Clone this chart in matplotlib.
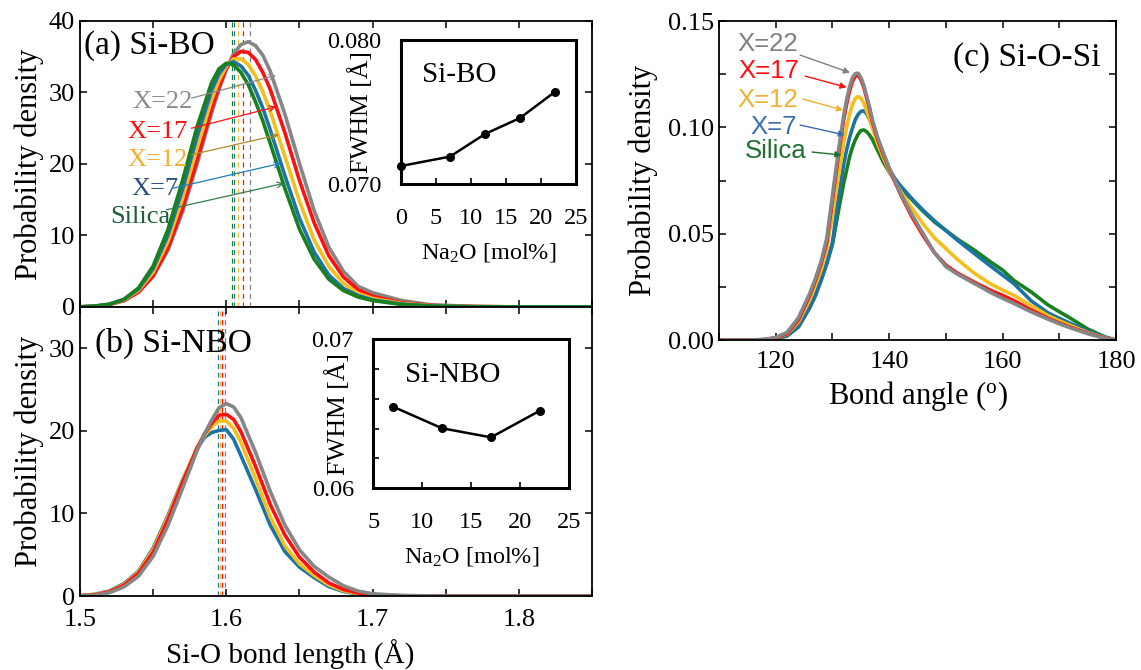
import numpy as np
import matplotlib.pyplot as plt
from matplotlib.ticker import MultipleLocator

plt.rcParams['font.family'] = ['Liberation Serif', 'DejaVu Serif']
plt.rcParams['mathtext.fontset'] = 'custom'
plt.rcParams['mathtext.rm'] = 'Liberation Serif'
plt.rcParams['mathtext.it'] = 'Liberation Serif:italic'
plt.rcParams['xtick.direction'] = 'in'
plt.rcParams['ytick.direction'] = 'in'
plt.rcParams['axes.linewidth'] = 1.3
plt.rcParams['lines.solid_joinstyle'] = 'round'

# ---- data ----
labels = ['Silica', 'X=7', 'X=12', 'X=17', 'X=22']
colors = ['#18801e', '#1c74a6', '#f2c01e', '#ff1010', '#868686']

# (a) Si-BO bond length distribution
bo_x = [1.50, 1.51, 1.52, 1.53, 1.54, 1.55, 1.56, 1.57, 1.58, 1.59, 1.595, 1.60,
        1.605, 1.61, 1.615, 1.62, 1.625, 1.63, 1.64, 1.65, 1.66, 1.67, 1.68,
        1.69, 1.70, 1.72, 1.74, 1.77, 1.80, 1.85]
bo_silica = [0.02, 0.12, 0.38, 1.07, 2.66, 5.73, 10.77, 17.64, 25.2, 31.4, 33.3, 34.1,
             33.85, 32.8, 31.1, 28.7, 26.0, 22.9, 16.6, 10.9, 6.7, 3.9, 2.3,
             1.4, 0.9, 0.35, 0.12, 0.03, 0, 0]
bo_x7 = [0.02, 0.12, 0.38, 1.05, 2.51, 5.34, 9.98, 16.4, 23.8, 30.3, 32.6, 33.95,
         34.3, 33.7, 32.4, 30.3, 27.8, 24.8, 18.4, 12.4, 7.7, 4.5, 2.6,
         1.6, 1.0, 0.4, 0.14, 0.04, 0, 0]
bo_x12 = [0.02, 0.11, 0.37, 0.98, 2.32, 4.87, 9.1, 15.1, 22.2, 29.0, 31.7, 33.65,
          34.7, 34.7, 33.9, 32.3, 30.1, 27.4, 21.1, 14.8, 9.4, 5.7, 3.3,
          1.9, 1.2, 0.5, 0.17, 0.05, 0.01, 0]
bo_x17 = [0.02, 0.10, 0.34, 0.89, 2.09, 4.38, 8.2, 13.75, 20.6, 27.7, 30.8, 33.3,
          35.0, 35.75, 35.6, 34.6, 32.8, 30.45, 24.4, 17.7, 11.8, 7.2, 4.2,
          2.4, 1.5, 0.6, 0.22, 0.06, 0.01, 0]
bo_x22 = [0.02, 0.10, 0.36, 0.9, 2.07, 4.26, 7.9, 13.25, 20.0, 27.2, 30.4, 33.3,
          35.4, 36.7, 37.1, 36.55, 35.2, 33.0, 27.0, 20.1, 13.5, 8.4, 5.0,
          2.9, 2.0, 0.9, 0.3, 0.08, 0.02, 0]
bo_mean = [1.6037, 1.6054, 1.6077, 1.6111, 1.6160]

# (b) Si-NBO bond length distribution (no NBO in silica)
nbo_x = [1.50, 1.51, 1.52, 1.53, 1.54, 1.55, 1.56, 1.57, 1.58, 1.585, 1.59, 1.595,
         1.60, 1.605, 1.61, 1.62, 1.63, 1.64, 1.65, 1.66, 1.67, 1.68, 1.69, 1.70,
         1.72, 1.75, 1.80, 1.85]
nbo_x7 = [0.05, 0.2, 0.6, 1.5, 3.0, 5.8, 9.7, 14.0, 17.8, 19.2, 19.8, 20.05,
          20.15, 19.0, 17.0, 12.9, 8.6, 5.4, 3.5, 2.24, 1.15, 0.55, 0.25, 0.1,
          0.02, 0, 0, 0]
nbo_x12 = [0.05, 0.2, 0.55, 1.4, 2.9, 5.6, 9.5, 13.9, 18.0, 19.4, 20.5, 21.2,
           21.2, 20.3, 18.6, 14.2, 9.6, 6.1, 3.9, 2.5, 1.35, 0.65, 0.3, 0.12,
           0.03, 0, 0, 0]
nbo_x17 = [0.04, 0.15, 0.5, 1.3, 2.75, 5.3, 9.2, 13.7, 17.9, 19.6, 20.9, 21.9,
           22.0, 21.4, 19.9, 15.7, 11.1, 7.4, 4.7, 2.9, 1.6, 0.8, 0.38, 0.16,
           0.04, 0, 0, 0]
nbo_x22 = [0.03, 0.1, 0.4, 1.1, 2.4, 4.8, 8.5, 13.0, 17.6, 19.6, 21.3, 22.8,
           23.3, 22.9, 21.6, 17.4, 12.7, 8.6, 5.6, 3.6, 2.3, 1.25, 0.6, 0.28,
           0.06, 0, 0, 0]
nbo_mean = [1.5941, 1.5957, 1.5971, 1.5993]

# (c) Si-O-Si bond angle distribution
ba_x = [110, 115, 118, 120, 122, 124, 126, 127, 128, 129, 130, 131, 132, 132.5,
        133, 133.5, 134, 134.5, 135, 135.5, 136, 136.5, 137, 138, 139, 140, 141,
        142, 144, 146, 148, 150, 152, 155, 158, 160, 162, 165, 168, 170, 172,
        175, 178, 180]
ba_silica = [0, 0, .0001, .0006, .002, .0062, .0152, .021, .0285, .036, .045, .060,
             .074, .080, .086, .0905, .094, .0967, .0985, .0988, .098, .0965,
             .0945, .089, .0835, .079, .075, .0715, .066, .0605, .0555, .0515,
             .0475, .0423, .0365, .0329, .028, .0227, .0165, .0133, .0102,
             .0052, .0015, 0]
ba_x7 = [0, 0, .0001, .0006, .002, .0062, .0155, .021, .028, .036, .046, .066,
         .083, .0895, .095, .0995, .1035, .106, .1075, .1078, .1065, .104,
         .101, .093, .086, .0805, .076, .0725, .0665, .061, .056, .0515, .047,
         .0407, .0345, .0305, .0265, .0185, .0128, .0102, .0078, .0042, .0012, 0]
ba_x12 = [0, 0, .0002, .0009, .0028, .0085, .019, .026, .033, .043, .059, .076,
          .093, .100, .106, .1105, .1135, .1145, .1138, .1115, .108, .1045,
          .100, .092, .0855, .0795, .0745, .070, .062, .0545, .048, .043, .038,
          .0314, .0262, .0235, .021, .0162, .0115, .009, .0068, .0035, .001, 0]
ba_x17 = [0, 0, .0002, .001, .003, .0095, .021, .028, .036, .046, .066, .086,
          .104, .111, .117, .1215, .124, .1245, .1225, .119, .114, .109, .103,
          .094, .087, .0805, .0745, .0685, .058, .049, .041, .0352, .0315,
          .0272, .0232, .021, .0185, .0142, .0102, .008, .006, .0032, .0009, 0]
ba_x22 = [0, 0, .0003, .0012, .0036, .0105, .022, .029, .037, .048, .068, .088,
          .106, .113, .119, .1232, .1252, .1255, .1235, .120, .115, .110, .104,
          .095, .088, .081, .075, .069, .059, .050, .041, .0345, .031, .0266,
          .0222, .0196, .0172, .0133, .0098, .0076, .0057, .003, .0008, 0]

# insets: FWHM vs Na2O content
na2o_bo = [0, 7, 12, 17, 22]
fwhm_bo = [0.07125, 0.0719, 0.07347, 0.07458, 0.0764]
na2o_nbo = [7, 12, 17, 22]
fwhm_nbo = [0.06548, 0.06403, 0.06342, 0.06521]

fig = plt.figure(figsize=(11.41, 6.70), dpi=100)

ax_a = fig.add_axes([0.0701, 0.5418, 0.4488, 0.4269])
ax_b = fig.add_axes([0.0701, 0.1104, 0.4488, 0.4314], sharex=ax_a)
ax_c = fig.add_axes([0.6302, 0.4925, 0.3479, 0.4761])

lw = 2.6

# ---- (a) ----
bo_curves = [bo_silica, bo_x7, bo_x12, bo_x17, bo_x22]
for m, c in zip(bo_mean, colors):
    ax_a.axvline(m, color=c, lw=0.9, ls=(0, (4, 3)), zorder=1)
for i in [4, 3, 2, 1, 0]:
    ax_a.plot(bo_x, bo_curves[i], color=colors[i], lw=lw, zorder=2)
ax_a.set_ylim(0, 40)
ax_a.set_xlim(1.5, 1.85)
ax_a.yaxis.set_major_locator(MultipleLocator(10))
ax_a.set_ylabel('Probability density', fontsize=22)
ax_a.yaxis.set_label_coords(-0.07, 0.5)
ax_a.text(1.503, 36.6, '(a) Si-BO', fontsize=24, va='center', ha='left')

txt_a = ['#8c8c8c', '#ff1010', '#f0b030', '#2f4f7f', '#1d5f38']
arr_a = ['#8c8c8c', '#ff1010', '#b08a2a', '#1f7fc0', '#2f7f4f']
ann_a = [  # label, text pos, arrow tail, arrow head
    ('X=22', (1.536, 28.7), (1.5762, 29.2), (1.634, 32.4)),
    ('X=17', (1.5327, 24.5), (1.5762, 25.0), (1.634, 28.0)),
    ('X=12', (1.5327, 20.6), (1.5762, 21.3), (1.636, 24.1)),
    ('X=7', (1.5354, 16.5), (1.5633, 16.6), (1.6374, 20.1)),
    ('Silica', (1.5204, 12.6), (1.5592, 13.6), (1.6395, 17.3)),
]
for k, (lab, tp, tail, head) in enumerate(ann_a):
    ax_a.text(tp[0], tp[1], lab, color=txt_a[k], fontsize=19, va='center', ha='left')
    ax_a.annotate('', xy=head, xytext=tail,
                  arrowprops=dict(arrowstyle='->', color=arr_a[k], lw=0.9,
                                  shrinkA=0, shrinkB=0, mutation_scale=10))

# ---- (b) ----
nbo_curves = [nbo_x7, nbo_x12, nbo_x17, nbo_x22]
for m, c in zip(nbo_mean, colors[1:]):
    ax_b.axvline(m, color=c, lw=0.9, ls=(0, (4, 3)), zorder=1)
for i in [0, 1, 2, 3]:
    ax_b.plot(nbo_x, nbo_curves[i], color=colors[i + 1], lw=lw, zorder=2)
ax_b.set_ylim(0, 35)
ax_b.yaxis.set_major_locator(MultipleLocator(10))
ax_b.xaxis.set_major_locator(MultipleLocator(0.1))
ax_b.xaxis.set_minor_locator(MultipleLocator(0.05))
ax_b.xaxis.set_major_formatter(plt.FuncFormatter(lambda v, p: f'{v:.1f}'))
ax_b.set_ylabel('Probability density', fontsize=22)
ax_b.yaxis.set_label_coords(-0.07, 0.5)
ax_b.set_xlabel('Si-O bond length (Å)', fontsize=21)
ax_b.xaxis.set_label_coords(0.41, -0.15)
ax_b.text(1.510, 30.6, '(b) Si-NBO', fontsize=24, va='center', ha='left')

for ax in (ax_a, ax_b):
    ax.tick_params(which='both', top=True, right=True, labelsize=19,
                   length=5, width=1.1)
ax_a.tick_params(labelbottom=False)
ax_b.tick_params(axis='x', pad=9)

# ---- (c) ----
ba_curves = [ba_silica, ba_x7, ba_x12, ba_x17, ba_x22]
for i in range(5):
    ax_c.plot(ba_x, ba_curves[i], color=colors[i], lw=lw)
ax_c.set_xlim(110, 180)
ax_c.set_ylim(0, 0.15)
ax_c.xaxis.set_major_locator(MultipleLocator(20))
ax_c.xaxis.set_minor_locator(MultipleLocator(10))
ax_c.yaxis.set_major_locator(MultipleLocator(0.05))
ax_c.yaxis.set_minor_locator(MultipleLocator(0.025))
ax_c.yaxis.set_major_formatter(plt.FuncFormatter(lambda v, p: f'{v:.2f}'))
ax_c.tick_params(which='both', top=True, right=True, labelsize=19,
                 length=5, width=1.1)
ax_c.tick_params(axis='x', pad=8)
ax_c.set_ylabel('Probability density', fontsize=22)
ax_c.yaxis.set_label_coords(-0.155, 0.5)
ax_c.set_xlabel('Bond angle ($^{\\rm o}$)', fontsize=22)
ax_c.text(177.2, 0.1326, '(c) Si-O-Si', fontsize=24, va='center', ha='right')

txt_c = ['#808080', '#ff1010', '#f0b030', '#3a6fb0', '#1f6f30']
ann_c = [
    ('X=22', (113.2, 0.1392), (124.3, 0.134), (133.1, 0.1257)),
    ('X=17', (113.35, 0.1265), (125.2, 0.1241), (132.5, 0.1188)),
    ('X=12', (113.2, 0.1128), (124.8, 0.1133), (131.9, 0.1081)),
    ('X=7', (115.5, 0.1002), (124.3, 0.1011), (132.2, 0.0964)),
    ('Silica', (114.6, 0.0889), (126.4, 0.0884), (131.6, 0.087)),
]
for k, (lab, tp, tail, head) in enumerate(ann_c):
    ax_c.text(tp[0], tp[1], lab, color=txt_c[k], fontsize=18.5, va='center',
              ha='left', family=['Liberation Sans', 'DejaVu Sans'])
    ax_c.annotate('', xy=head, xytext=tail,
                  arrowprops=dict(arrowstyle='-|>', color=txt_c[k], lw=1.0,
                                  shrinkA=0, shrinkB=0, mutation_scale=9))

# ---- insets ----
in_a = fig.add_axes([0.3514, 0.7254, 0.1534, 0.2149])
in_a.plot(na2o_bo, fwhm_bo, 'o-', color='k', lw=1.8, ms=5.5, clip_on=False)
in_a.set_xlim(0, 25)
in_a.set_ylim(0.070, 0.080)
in_a.set_yticks([0.070, 0.080])
in_a.yaxis.set_major_formatter(plt.FuncFormatter(lambda v, p: f'{v:.3f}'))
in_a.xaxis.set_major_locator(MultipleLocator(5))
in_a.text(0.12, 0.76, 'Si-BO', transform=in_a.transAxes, fontsize=21, va='center')

in_b = fig.add_axes([0.3272, 0.2712, 0.1718, 0.2224])
in_b.plot(na2o_nbo, fwhm_nbo, 'o-', color='k', lw=1.8, ms=5.5, clip_on=False)
in_b.set_xlim(5, 25)
in_b.set_ylim(0.060, 0.070)
in_b.yaxis.set_major_locator(MultipleLocator(0.002))
in_b.yaxis.set_major_formatter(plt.FuncFormatter(
    lambda v, p: f'{v:.2f}' if abs(v - 0.06) < 1e-6 or abs(v - 0.07) < 1e-6 else ''))
in_b.xaxis.set_major_locator(MultipleLocator(5))
in_b.text(0.16, 0.76, 'Si-NBO', transform=in_b.transAxes, fontsize=21, va='center')

for ax in (in_a, in_b):
    for s in ax.spines.values():
        s.set_linewidth(2.2)
    ax.tick_params(axis='x', labelsize=17.5, length=4, width=1.2, pad=17)
    ax.tick_params(axis='y', labelsize=17.5, length=4, width=1.2, pad=14)
    ax.set_xlabel('Na$_2$O [mol%]', fontsize=17.5, labelpad=9)
    ax.set_ylabel('FWHM [Å]', fontsize=18.5)
in_a.yaxis.set_label_coords(-0.16, 0.5)
in_b.yaxis.set_label_coords(-0.12, 0.5)

fig.savefig('out.png', dpi=100)
